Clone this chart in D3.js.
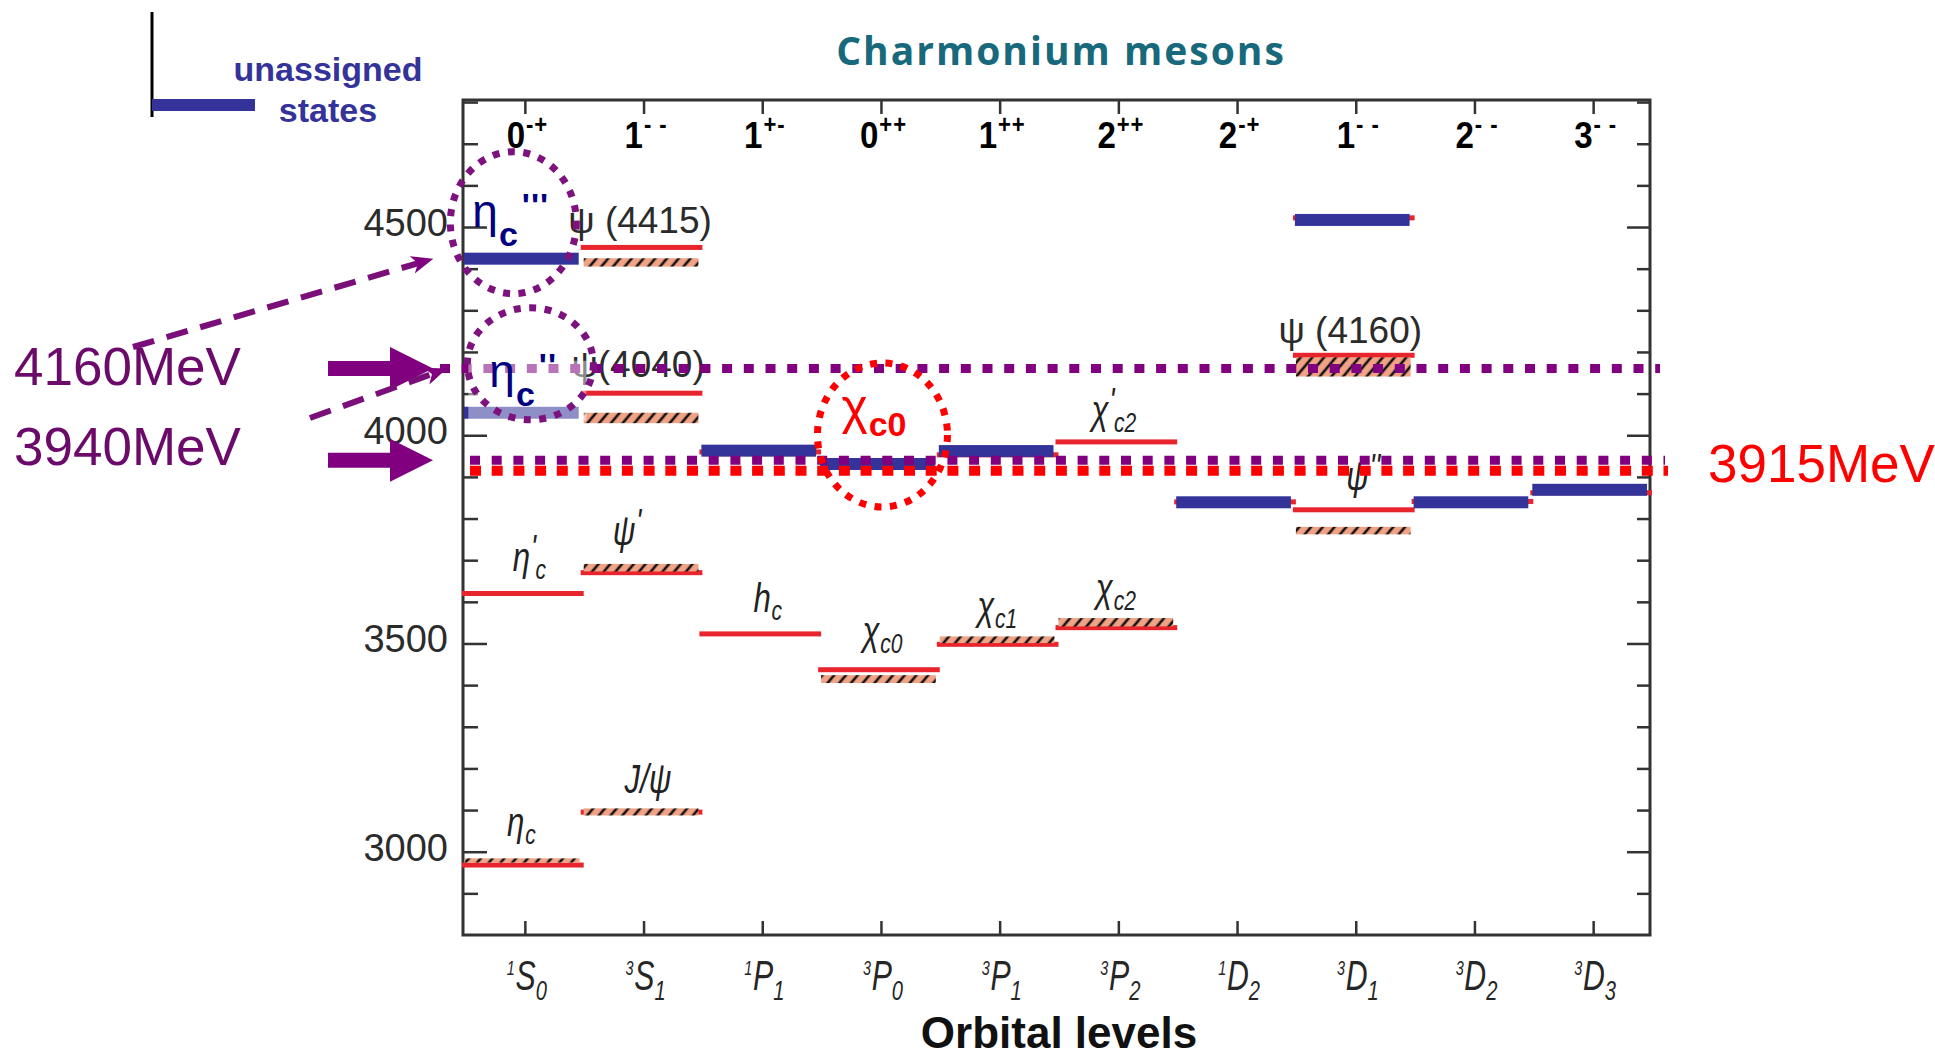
<!DOCTYPE html>
<html>
<head>
<meta charset="utf-8">
<script src="https://cdn.jsdelivr.net/npm/d3@7"></script>
<style>
  html, body { margin: 0; padding: 0; background: #ffffff; }
  svg { display: block; }
</style>
</head>
<body>
<svg id="chart" width="1935" height="1058"></svg>
<script>
// ---------------- data ----------------
// Orbital levels (columns) in spectroscopic notation 2S+1 L J
const levels      = ["1S0", "3S1", "1P1", "3P0", "3P1", "3P2", "1D2", "3D1", "3D2", "3D3"];
const levelSpin   = ["1", "3", "1", "3", "3", "3", "1", "3", "3", "3"];
const levelLetter = ["S", "S", "P", "P", "P", "P", "D", "D", "D", "D"];
const levelJ      = ["0", "1", "1", "0", "1", "2", "2", "1", "2", "3"];
// J^PC of each column
const jpcJ  = ["0", "1", "1", "0", "1", "2", "2", "1", "2", "3"];
const jpcPC = ["-+", "- -", "+-", "++", "++", "++", "-+", "- -", "- -", "- -"];

// Mass axis, MeV
const massDomain = [2800, 4805];
const massTicksMajor = [3000, 3500, 4000, 4500];
const massTicksMinor = [2900, 3100, 3200, 3300, 3400, 3600, 3700, 3800, 3900,
                        4100, 4200, 4300, 4400, 4600, 4700, 4800];

// Predicted levels: [level, mass MeV]
const predicted = [
  ["1S0", 2968], ["1S0", 3620],
  ["3S1", 3095], ["3S1", 3670], ["3S1", 4101], ["3S1", 4451],
  ["1P1", 3523], ["1P1", 3960],
  ["3P0", 3437],
  ["3P1", 3498], ["3P1", 3953],
  ["3P2", 3538], ["3P2", 3984],
  ["1D2", 3840],
  ["3D1", 3821], ["3D1", 4192], ["3D1", 4522],
  ["3D2", 3841],
  ["3D3", 3862]
];

// Observed states: [level, low MeV, high MeV]
const observed = [
  ["1S0", 2974, 2984],
  ["3S1", 3087, 3104], ["3S1", 3673, 3691], ["3S1", 4029, 4054], ["3S1", 4405, 4425],
  ["3P0", 3405, 3424],
  ["3P1", 3501, 3517],
  ["3P2", 3541, 3561],
  ["3D1", 3762, 3780], ["3D1", 4141, 4187]
];

// Unassigned states: [level, mass MeV]
const unassigned = [
  ["1S0", 4424], ["1S0", 4054],
  ["1P1", 3963], ["3P0", 3931], ["3P1", 3962],
  ["1D2", 3839], ["3D1", 4517], ["3D2", 3839], ["3D3", 3869]
];

// State names written above their levels
const stateLabels = [
  { level: "1S0", mass: 2984, base: "η", sub: "c" },
  { level: "1S0", mass: 3620, base: "η", sup: "'", sub: "c" },
  { level: "3S1", mass: 3104, base: "J/ψ" },
  { level: "3S1", mass: 3691, base: "ψ", sup: "'" },
  { level: "3S1", mass: 4101, base: "ψ(4040)", upright: true },
  { level: "3S1", mass: 4451, base: "ψ (4415)", upright: true },
  { level: "1P1", mass: 3523, base: "h", sub: "c" },
  { level: "3P0", mass: 3437, base: "χ", sub: "c0" },
  { level: "3P1", mass: 3517, base: "χ", sub: "c1" },
  { level: "3P2", mass: 3561, base: "χ", sub: "c2" },
  { level: "3P2", mass: 3984, base: "χ", sup: "'", sub: "c2" },
  { level: "3D1", mass: 3821, base: "ψ", sup: "''" },
  { level: "3D1", mass: 4192, base: "ψ (4160)", upright: true }
];

// Energies marked across the spectrum
const markedMasses = [4160, 3940, 3915];
const markedTexts  = ["4160MeV", "3940MeV", "3915MeV"];

// ---------------- drawing ----------------
const RED = "#e8242c";
const BLUE = "#333399";
const PURPLE = "#800080";
const SALMON = "#f2a385";
const AXIS = "#333333";
const SANS = "'Liberation Sans', Arial, sans-serif";

const svg = d3.select("#chart");
const plot = { left: 463, right: 1650, top: 100, bottom: 935 };

const x = d3.scaleBand().domain(levels).range([plot.left, plot.right]).padding(0);
const y = d3.scaleLinear().domain(massDomain).range([plot.bottom, plot.top]);
const bw = x.bandwidth();
const cx = lv => x(lv) + bw / 2;

const defs = svg.append("defs");
const hatch = defs.append("pattern")
  .attr("id", "hatch").attr("patternUnits", "userSpaceOnUse")
  .attr("width", 9).attr("height", 9).attr("patternTransform", "rotate(40)");
hatch.append("rect").attr("width", 9).attr("height", 9).attr("fill", SALMON);
hatch.append("line").attr("x1", 2).attr("y1", 0).attr("x2", 2).attr("y2", 9)
  .attr("stroke", "#111").attr("stroke-width", 2.6);

defs.append("marker")
  .attr("id", "dashHead").attr("markerUnits", "userSpaceOnUse")
  .attr("markerWidth", 26).attr("markerHeight", 20)
  .attr("refX", 22).attr("refY", 9).attr("orient", "auto")
  .append("path").attr("d", "M0,0 L22,9 L0,18 L6,9 Z").attr("fill", PURPLE);

// frame
svg.append("rect")
  .attr("x", plot.left).attr("y", plot.top)
  .attr("width", plot.right - plot.left).attr("height", plot.bottom - plot.top)
  .attr("fill", "none").attr("stroke", AXIS).attr("stroke-width", 3);

// axes
function styleAxis(g) {
  g.select(".domain").remove();
  g.selectAll(".tick line").attr("stroke", AXIS).attr("stroke-width", 2.5);
  g.selectAll(".tick text")
    .attr("fill", "#2b2b2b")
    .style("font-family", SANS)
    .style("font-size", "38px");
}
svg.append("g").attr("transform", `translate(${plot.left},0)`)
  .call(d3.axisLeft(y).tickValues(massTicksMajor).tickSizeInner(-24).tickSizeOuter(0)
    .tickPadding(15).tickFormat(d3.format("d")))
  .call(styleAxis)
  .call(g => g.selectAll(".tick text").attr("dy", "0.22em"));
svg.append("g").attr("transform", `translate(${plot.left},0)`)
  .call(d3.axisLeft(y).tickValues(massTicksMinor).tickSizeInner(-15).tickSizeOuter(0).tickFormat(() => ""))
  .call(styleAxis);
svg.append("g").attr("transform", `translate(${plot.right},0)`)
  .call(d3.axisRight(y).tickValues(massTicksMajor).tickSizeInner(-23).tickSizeOuter(0).tickFormat(() => ""))
  .call(styleAxis);
svg.append("g").attr("transform", `translate(${plot.right},0)`)
  .call(d3.axisRight(y).tickValues(massTicksMinor).tickSizeInner(-13).tickSizeOuter(0).tickFormat(() => ""))
  .call(styleAxis);
svg.append("g").attr("transform", `translate(3,${plot.top})`)
  .call(d3.axisTop(x).tickSizeInner(-14).tickSizeOuter(0).tickFormat(() => ""))
  .call(styleAxis);
svg.append("g").attr("transform", `translate(3,${plot.bottom})`)
  .call(d3.axisBottom(x).tickSizeInner(-14).tickSizeOuter(0).tickFormat(() => ""))
  .call(styleAxis);

// J^PC header inside the frame
const jpc = svg.append("g").selectAll("g").data(levels).join("g")
  .attr("transform", d => `translate(${cx(d) + 5},148) scale(0.92,1.05)`)
  .append("text")
  .attr("text-anchor", "middle")
  .style("font-family", SANS)
  .style("font-weight", "bold").attr("fill", "#000");
jpc.append("tspan").style("font-size", "36px").text((d, i) => jpcJ[i]);
jpc.append("tspan").style("font-size", "24px").attr("dy", -14).attr("dx", 1)
  .style("letter-spacing", "1px").text((d, i) => jpcPC[i]);

// orbital level labels below the frame
const lvLab = svg.append("g").selectAll("g").data(levels).join("g")
  .attr("transform", d => `translate(${cx(d) + 6},990) scale(0.72,1)`);
const lvText = lvLab.append("text").attr("text-anchor", "middle")
  .style("font-family", SANS)
  .style("font-style", "italic").attr("fill", "#262626");
lvText.append("tspan").style("font-size", "20px").attr("dy", -15).attr("dx", -2).text((d, i) => levelSpin[i]);
lvText.append("tspan").style("font-size", "42px").attr("dy", 15).attr("dx", 1).text((d, i) => levelLetter[i]);
lvText.append("tspan").style("font-size", "28px").attr("dy", 10).text((d, i) => levelJ[i]);

svg.append("text").attr("x", 1059).attr("y", 1048).attr("text-anchor", "middle")
  .style("font-family", SANS)
  .style("font-weight", "bold").style("font-size", "44px").attr("fill", "#111")
  .text("Orbital levels");

// title
svg.append("text").attr("x", 1061).attr("y", 65).attr("text-anchor", "middle")
  .style("font-family", "'Open Sans', 'Liberation Sans', sans-serif")
  .style("font-weight", "700").style("font-size", "39px").style("letter-spacing", "2px")
  .attr("fill", "#17697b").text("Charmonium mesons");

// legend for unassigned states
svg.append("line").attr("x1", 152).attr("x2", 152).attr("y1", 12).attr("y2", 117)
  .attr("stroke", "#000").attr("stroke-width", 3);
svg.append("rect").attr("x", 152).attr("y", 99).attr("width", 103).attr("height", 12).attr("fill", BLUE);
svg.append("text").attr("x", 328).attr("y", 81).attr("text-anchor", "middle")
  .style("font-family", SANS).style("font-weight", "bold")
  .style("font-size", "34px").attr("fill", BLUE).text("unassigned");
svg.append("text").attr("x", 328).attr("y", 122).attr("text-anchor", "middle")
  .style("font-family", SANS).style("font-weight", "bold")
  .style("font-size", "34px").attr("fill", BLUE).text("states");

// levels: predicted lines, observed hatched bands, unassigned bars
svg.append("g").selectAll("rect").data(predicted).join("rect")
  .attr("x", d => x(d[0]) - 1).attr("width", bw + 3)
  .attr("y", d => y(d[1]) - 2.5).attr("height", 5).attr("fill", RED);

svg.append("g").selectAll("rect").data(observed).join("rect")
  .attr("x", d => x(d[0]) + 2).attr("width", bw - 4)
  .attr("y", d => y(d[2])).attr("height", d => y(d[1]) - y(d[2]))
  .attr("fill", "url(#hatch)");

svg.append("g").selectAll("rect").data(unassigned).join("rect")
  .attr("x", d => x(d[0]) + 1).attr("width", bw - 4)
  .attr("y", d => y(d[1]) - 6).attr("height", 12).attr("fill", BLUE);

// state names
const labelOffsets = [
  [-1, 22], [7, 23], [7, 15], [-14, 19], [-3, 16], [-1, 14],
  [8, 22], [4, 25], [0, 16], [0, 16], [-2, 18], [10, 20], [-3, 12]
];
stateLabels.forEach((s, i) => {
  const [dx, gap] = labelOffsets[i];
  const px = cx(s.level) + dx, py = y(s.mass) - gap;
  if (s.upright) {
    svg.append("text").attr("x", px).attr("y", py).attr("text-anchor", "middle")
      .style("font-family", SANS)
      .style("font-size", "37px").attr("fill", "#2b2b2b").text(s.base);
    return;
  }
  const t = svg.append("g").attr("transform", `translate(${px},${py}) scale(0.78,1)`)
    .append("text").attr("text-anchor", "middle")
    .style("font-family", SANS)
    .style("font-style", "italic").attr("fill", "#222");
  t.append("tspan").style("font-size", "40px").text(s.base);
  if (s.sup) t.append("tspan").style("font-size", "36px").attr("dy", -12).attr("dx", 1).text(s.sup);
  if (s.sub) t.append("tspan").style("font-size", "27px")
    .attr("dx", s.sup ? -1 : 1).attr("dy", s.sup ? 20 : 8).text(s.sub);
});

// marked energies: dotted lines across the spectrum
const markSpans = [[440, 1660], [470, 1665], [470, 1668]];
const markColors = [PURPLE, PURPLE, "#ff0000"];
markedMasses.forEach((m, i) => {
  svg.append("line")
    .attr("x1", markSpans[i][0]).attr("x2", markSpans[i][1])
    .attr("y1", y(m)).attr("y2", y(m))
    .attr("stroke", markColors[i]).attr("stroke-width", i === 2 ? 10 : 9)
    .attr("stroke-dasharray", i === 2 ? "11 10.7" : "10 11.7");
});

// translucent backing behind the second eta_c label
const etaBack = { x: cx("1S0") - 54, y: y(unassigned[1][1]) - 52 };
svg.append("rect").attr("x", etaBack.x).attr("y", etaBack.y)
  .attr("width", 118).attr("height", 60).attr("fill", "#fff").attr("opacity", 0.45);

// dotted circles
function dottedEllipse(cxp, cyp, rx, ry, color) {
  svg.append("ellipse").attr("cx", cxp).attr("cy", cyp).attr("rx", rx).attr("ry", ry)
    .attr("fill", "none").attr("stroke", color).attr("stroke-width", 7)
    .attr("stroke-dasharray", "7 8.5");
}
dottedEllipse(cx("1S0") - 9, y(unassigned[0][1]) - 36, 63, 71, "#7d117d");
dottedEllipse(cx("1S0") + 8, y(unassigned[1][1]) - 49, 63, 56, "#7d117d");
dottedEllipse(cx("3P0") + 4, y(unassigned[3][1]) - 29, 65, 72, "#ff0000");

// eta_c''' and eta_c'' names
function etaName(x0, base, primes) {
  const t = svg.append("text").attr("x", x0).attr("y", base)
    .style("font-family", SANS).attr("fill", "#000080");
  t.append("tspan").style("font-size", "46px").text("η");
  t.append("tspan").style("font-size", "34px").style("font-weight", "bold").attr("dy", 19).attr("dx", 1).text("c");
  t.append("tspan").style("font-size", "34px").style("font-weight", "bold").attr("dy", -29).attr("dx", 4)
    .style("letter-spacing", "1px").text(primes);
}
etaName(cx("1S0") - 50, y(unassigned[0][1]) - 32, "'''");
etaName(cx("1S0") - 33, y(unassigned[1][1]) - 26, "''");

// chi_c0 name
const chi = svg.append("text").attr("x", cx("3P0") - 37).attr("y", y(unassigned[3][1]) - 40)
  .style("font-family", SANS).attr("fill", "#ff0000");
chi.append("tspan").style("font-size", "50px").text("χ");
chi.append("tspan").style("font-size", "34px").style("font-weight", "bold").attr("dy", 12).attr("dx", 1).text("c0");

// arrows and side captions
function blockArrow(yc) {
  const x0 = 328, xh = 390, tip = 433, s = 7.5, h = 21.5;
  svg.append("path")
    .attr("d", `M${x0},${yc - s} L${xh},${yc - s} L${xh},${yc - h} L${tip},${yc} L${xh},${yc + h} L${xh},${yc + s} L${x0},${yc + s} Z`)
    .attr("fill", PURPLE);
}
blockArrow(y(markedMasses[0]));
blockArrow(y(markedMasses[1]));

svg.append("line").attr("x1", 133).attr("y1", 347)
  .attr("x2", cx("1S0") - 89).attr("y2", y(unassigned[0][1]))
  .attr("stroke", "#7a0f7a").attr("stroke-width", 6).attr("stroke-dasharray", "22 13")
  .attr("marker-end", "url(#dashHead)");
svg.append("line").attr("x1", 310).attr("y1", 418)
  .attr("x2", 447).attr("y2", y(markedMasses[0]))
  .attr("stroke", "#7a0f7a").attr("stroke-width", 6).attr("stroke-dasharray", "22 13")
  .attr("marker-end", "url(#dashHead)");

svg.append("text").attr("x", 14).attr("y", y(markedMasses[0]) + 16)
  .style("font-family", SANS).style("font-size", "53px").attr("fill", "#6b0a6b").text(markedTexts[0]);
svg.append("text").attr("x", 14).attr("y", y(markedMasses[1]) + 5)
  .style("font-family", SANS).style("font-size", "53px").attr("fill", "#6b0a6b").text(markedTexts[1]);
svg.append("text").attr("x", 1708).attr("y", y(markedMasses[2]) + 11)
  .style("font-family", SANS).style("font-size", "53px").attr("fill", "#ff0000").text(markedTexts[2]);
</script>
</body>
</html>
